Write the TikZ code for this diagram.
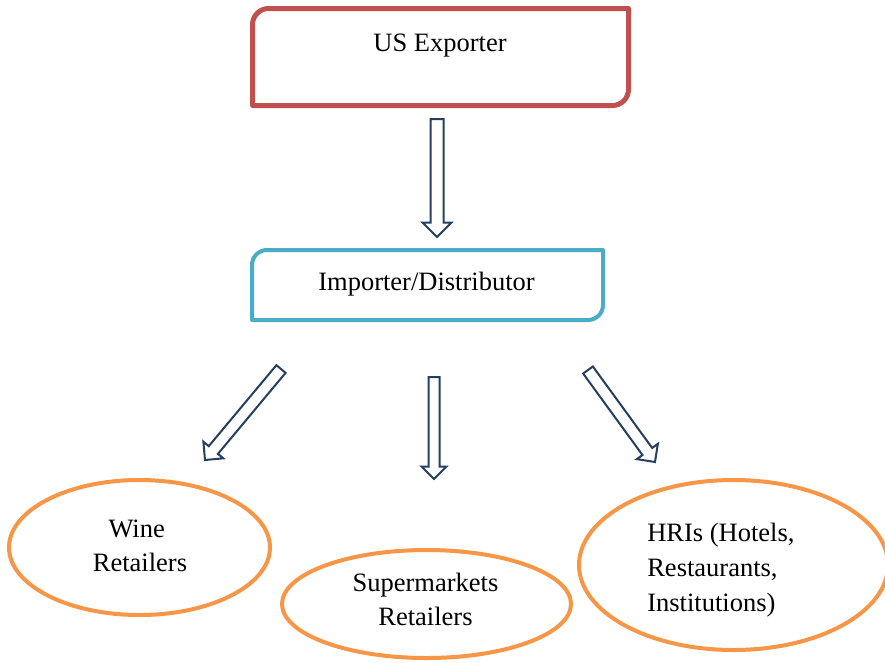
\documentclass[tikz,border=0pt]{standalone}
\usepackage{fontspec}
\setmainfont{Liberation Serif}
\usetikzlibrary{shapes.geometric,shapes.arrows,calc}
\definecolor{boxred}{HTML}{C0504D}
\definecolor{boxcyan}{HTML}{4BACC6}
\definecolor{ellorange}{HTML}{F79646}
\definecolor{arrownavy}{HTML}{243F60}
\newcommand\blockarrow[4]{%
  \path let \p1=(#1), \p2=(#2),
    \n1={atan2(\y2-\y1,\x2-\x1)},
    \n2={veclen(\x2-\x1,\y2-\y1)} in
    node[hollowarrow, minimum height=\n2, inner ysep=#3,
         single arrow head extend=#4, rotate=\n1, anchor=tail] at (\p1) {};}
\begin{document}
\begin{tikzpicture}[x=1pt,y=-1pt,
  lbl/.style={inner sep=0pt, outer sep=0pt, font=\fontsize{26.5}{34}\selectfont},
  hollowarrow/.style={single arrow, draw=arrownavy, line width=2pt, fill=white,
    inner xsep=0pt, outer sep=0pt, minimum width=0pt, line join=miter},
  ovalbox/.style={ellipse, draw=ellorange, line width=4pt, inner sep=0pt, outer sep=0pt},
  redline/.style={draw=boxred, line width=5pt, line join=round},
  cyanline/.style={draw=boxcyan, line width=4pt, line join=round}]
\useasboundingbox (0,0) rectangle (885,662);
\clip (0,0) rectangle (885,662);
% top box
\draw[redline] (252.5,24.5) .. controls (252.5,15.7) and (259.7,8.5) .. (268.5,8.5)
  -- (628.5,8.5) -- (628.5,89.5) .. controls (628.5,98.3) and (621.3,105.5) .. (612.5,105.5)
  -- (252.5,105.5) -- cycle;
\node[lbl, anchor=base] (exporter) at (440,51.7) {US Exporter};
% middle box
\draw[cyanline] (252,265) .. controls (252,256.7) and (258.7,250) .. (267,250)
  -- (603,250) -- (603,305) .. controls (603,313.3) and (596.3,320) .. (588,320)
  -- (252,320) -- cycle;
\node[lbl, anchor=base] (importer) at (426.5,290) {Importer/Distributor};
% ellipses
\node[ovalbox, minimum width=261pt, minimum height=135pt] (wine) at (139.5,547.5) {};
\node[ovalbox, minimum width=289pt, minimum height=108pt] (super) at (426.5,604) {};
\node[ovalbox, minimum width=309pt, minimum height=170pt] (hri) at (733.5,565) {};
\node[lbl, align=center, anchor=base] (winetext) at (140,571.7) {Wine\kern6.6pt\\Retailers};
\node[lbl, align=center, anchor=base] (supertext) at (425.5,625) {Supermarkets\\Retailers};
\node[lbl, align=left, anchor=base west, font=\fontsize{26.5}{35}\selectfont] (hritext) at (647.3,611.7)
  {HRIs (Hotels,\\Restaurants,\\Institutions)};
% arrows
\coordinate (a1t) at (437,119);   \coordinate (a1h) at (437,237);
\coordinate (a2t) at (434,377);   \coordinate (a2h) at (434,479);
\coordinate (a3t) at (281,369);   \coordinate (a3h) at (205,460);
\coordinate (a4t) at (588,370);   \coordinate (a4h) at (655,462);
\blockarrow{a1t}{a1h}{5.5pt}{8pt}
\blockarrow{a2t}{a2h}{4.5pt}{7pt}
\blockarrow{a3t}{a3h}{5pt}{7pt}
\blockarrow{a4t}{a4h}{5pt}{7pt}
\end{tikzpicture}
\end{document}
